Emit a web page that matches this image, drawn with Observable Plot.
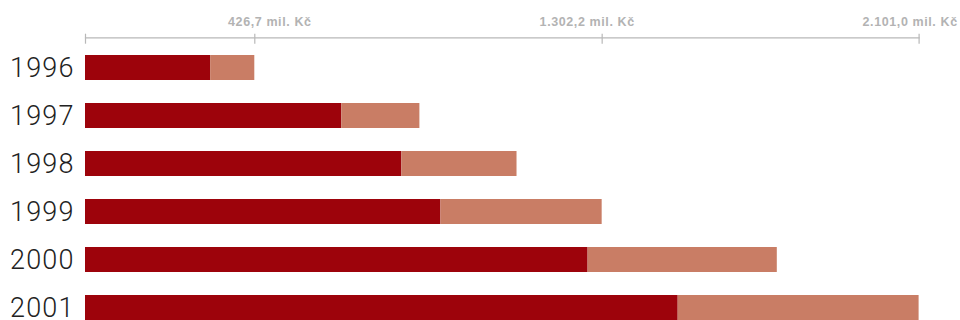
<!DOCTYPE html>
<html>
<head>
<meta charset="utf-8">
<script src="https://cdn.jsdelivr.net/npm/d3@7"></script>
<script src="https://cdn.jsdelivr.net/npm/@observablehq/plot@0.6"></script>
<style>
  html, body { margin: 0; padding: 0; background: #fff; }
  #chart svg { display: block; }
  g[font-size="12.5"] text, text[font-size="12.5"] { letter-spacing: 0.6px; }
  g[font-size="27"] text, text[font-size="27"] { letter-spacing: 1.2px; }
</style>
</head>
<body>
<div id="chart"></div>
<script>
// Data (mil. Kč)
const years = ["1996", "1997", "1998", "1999", "2000", "2001"];
const seriesNames = ["základ", "přírůstek"];
const darkValues = [315.4, 646.0, 797.4, 895.8, 1266.7, 1493.8];
const lightValues = [111.3, 196.8, 290.2, 406.4, 476.9, 607.2];
const tickValues = [426.7, 1302.2, 2101.0];

const colors = ["#9d030b", "#c97d65"];
const labelDx = [15, -15, -9];

const rows = [];
years.forEach((y, i) => {
  rows.push({year: y, series: seriesNames[0], value: darkValues[i]});
  rows.push({year: y, series: seriesNames[1], value: lightValues[i]});
});

const cz = d3.formatLocale({decimal: ",", thousands: ".", grouping: [3], currency: ["", " Kč"]});
const fmt = v => cz.format(",.1f")(v) + " mil. Kč";

const tickLabelMarks = tickValues.map((v, i) =>
  Plot.text([v], {
    x: d => d,
    text: d => fmt(d),
    frameAnchor: "top",
    dy: -32.3,
    dx: labelDx[i],
    lineAnchor: "middle",
    textAnchor: "middle",
    fontSize: 12.5,
    fontWeight: "bold",
    fill: "#b3b3b3",
    fontFamily: "'Liberation Sans', Arial, sans-serif"
  })
);

const chart = Plot.plot({
  width: 960,
  height: 320,
  marginTop: 54,
  marginBottom: 0,
  marginLeft: 85,
  marginRight: 41.4,
  style: {background: "#fff", overflow: "visible"},
  x: {domain: [0, 2101], axis: null, label: null},
  y: {domain: years, paddingInner: 0.48, paddingOuter: 0, axis: null, label: null},
  color: {domain: seriesNames, range: colors},
  marks: [
    Plot.frame({anchor: "top", dy: -16.7, stroke: "#b8b8b8", strokeWidth: 1.2}),
    Plot.axisX({
      anchor: "top",
      ticks: [0, ...tickValues],
      tickSize: 10,
      dy: -11.3,
      tickFormat: () => "",
      label: null,
      stroke: "#b8b8b8",
      strokeWidth: 1.2
    }),
    ...tickLabelMarks,
    Plot.barX(rows, {y: "year", x: "value", fill: "series"}),
    Plot.text(years, {
      y: d => d,
      text: d => d,
      frameAnchor: "left",
      dx: -10.8,
      textAnchor: "end",
      lineAnchor: "middle",
      fontSize: 27,
      fontWeight: 300,
      fill: "#222",
      fontFamily: "Roboto, 'Liberation Sans', sans-serif"
    })
  ]
});

document.getElementById("chart").appendChild(chart);
</script>
</body>
</html>
